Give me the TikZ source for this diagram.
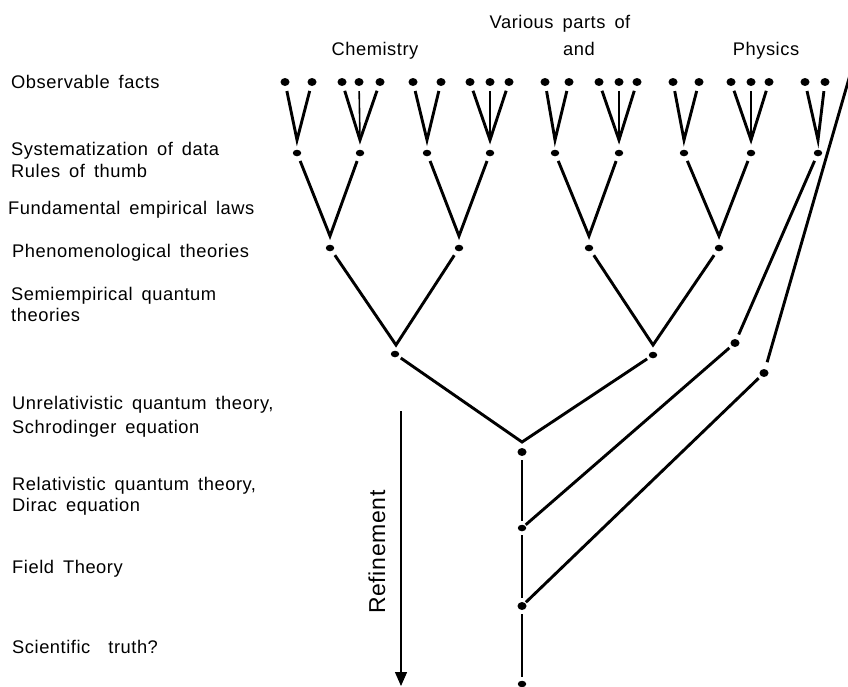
\documentclass[tikz,border=0pt]{standalone}
\usepackage{fontspec}
\setmainfont{Liberation Sans}[LetterSpace=3,WordSpace=1.6]
\usetikzlibrary{arrows.meta,shapes.geometric}
\begin{document}
\begin{tikzpicture}[x=1pt,y=-1pt,
  dot/.style={ellipse,fill,inner sep=0pt,minimum width=9pt,minimum height=8pt},
  sdot/.style={ellipse,fill,inner sep=0pt,minimum width=8.5pt,minimum height=6.5pt},
  link/.style={line width=2.9pt},
  thinlink/.style={line width=1.6pt},
  vee/.style={link,line join=miter,shorten <=5pt,shorten >=5pt},
  trunk/.style={line width=2.1pt,shorten <=4pt,shorten >=4pt},
  lab/.style={font=\fontsize{18.3}{22}\selectfont,anchor=base west,inner sep=0pt},
  head/.style={font=\fontsize{18.3}{22}\selectfont,anchor=base,inner sep=0pt}]
\useasboundingbox (0,0) rectangle (848,686);
\clip (0,0) rectangle (848,686);

% headings
\node[head] (hv) at (560,28) {Various parts of};
\node[head] (hc) at (375,55) {Chemistry};
\node[head] (ha) at (579,55) {and};
\node[head] (hp) at (766,55) {Physics};

% left labels
\node[lab] (l1) at (11,88) {Observable facts};
\node[lab] (l2) at (11,155) {Systematization of data};
\node[lab] (l3) at (11,177) {Rules of thumb};
\node[lab] (l4) at (8,214) {Fundamental empirical laws};
\node[lab] (l5) at (12,257) {Phenomenological theories};
\node[lab] (l6) at (11,300) {Semiempirical quantum};
\node[lab] (l7) at (11,321) {theories};
\node[lab] (l8) at (12,409) {Unrelativistic quantum theory,};
\node[lab] (l9) at (12,433) {Schrodinger equation};
\node[lab] (l10) at (12,490) {Relativistic quantum theory,};
\node[lab] (l11) at (12,511) {Dirac equation};
\node[lab] (l12) at (12,573) {Field Theory};
\node[lab] (l13) at (12,653) {Scientific\ \ truth?};

% top dots (observable facts)
\foreach \x [count=\i] in {285,312,342,359,380,413,441,470,490,509,545,569,599,619,637,673,699,731,751,769,805,825}
  \node[dot] (t\i) at (\x,82) {};

% level 2 dots and apexes
\foreach \x [count=\i] in {297,360,427,490,555,619,684,751,818}
  {\node[sdot] (b\i) at (\x,153) {};
   \coordinate (v\i) at (\x,140);}

\draw[vee] (t1) -- (v1) -- (t2);
\draw[vee] (t3) -- (v2) -- (t5);
\draw[thinlink,shorten <=5pt] (t4) -- (v2);
\draw[vee] (t6) -- (v3) -- (t7);
\draw[vee] (t8) -- (v4) -- (t10);
\draw[thinlink,shorten <=5pt] (t9) -- (v4);
\draw[vee] (t11) -- (v5) -- (t12);
\draw[vee] (t13) -- (v6) -- (t15);
\draw[thinlink,shorten <=5pt] (t14) -- (v6);
\draw[vee] (t16) -- (v7) -- (t17);
\draw[vee] (t18) -- (v8) -- (t20);
\draw[thinlink,shorten <=5pt] (t19) -- (v8);
\draw[vee] (t21) -- (v9) -- (t22);

% level 3
\foreach \x [count=\i] in {330,459,589,719}
  {\node[sdot] (c\i) at (\x,248) {};
   \coordinate (w\i) at (\x,236);}
\draw[vee] (b1) -- (w1) -- (b2);
\draw[vee] (b3) -- (w2) -- (b4);
\draw[vee] (b5) -- (w3) -- (b6);
\draw[vee] (b7) -- (w4) -- (b8);

% level 4
\node[sdot] (d1) at (395,354) {};
\node[sdot] (d2) at (653,355) {};
\coordinate (x1) at (396,345);
\coordinate (x2) at (653,345);
\draw[vee] (c1) -- (x1) -- (c2);
\draw[vee] (c3) -- (x2) -- (c4);

% physics branch dots
\node[dot] (p1) at (735,343) {};
\node[dot] (p2) at (764,373) {};

% trunk
\node[dot] (e1) at (522,452) {};
\node[sdot] (e2) at (522,528) {};
\node[dot] (e3) at (522,606) {};
\node[sdot] (e4) at (522,684) {};
\coordinate (y1) at (522,442);
\draw[vee,shorten <=3pt,shorten >=3pt] (d1) -- (y1) -- (d2);

\draw[trunk] (e1) -- (e2);
\draw[trunk] (e2) -- (e3);
\draw[trunk] (e3) -- (e4);

% side branches
\draw[link,shorten <=5pt,shorten >=5pt] (b9) -- (p1);
\draw[link,shorten <=3pt,shorten >=1pt] (p1) -- (e2);
\coordinate (far) at (850,75);
\draw[link,shorten >=7pt] (far) -- (p2);
\draw[link,shorten <=3pt,shorten >=1pt] (p2) -- (e3);

% refinement arrow
\coordinate (r0) at (401,411);
\coordinate (r1) at (401,686);
\draw[line width=1.4pt,-{Triangle[width=12pt,length=14pt]}] (r0) -- (r1);
\node[font=\fontsize{23}{26}\selectfont,rotate=90,inner sep=0pt] (ref) at (377,552) {Refinement};
\end{tikzpicture}
\end{document}
